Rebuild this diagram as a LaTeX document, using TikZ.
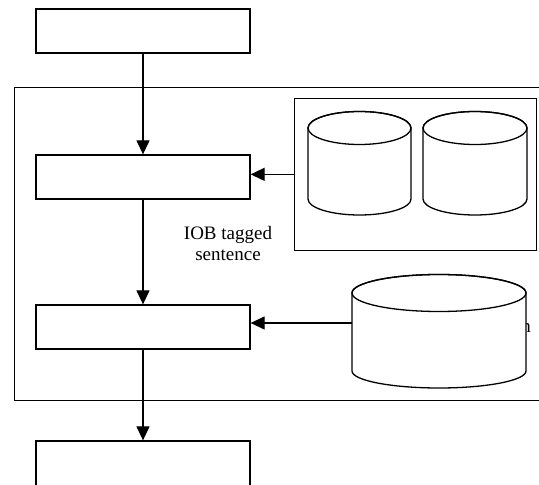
\documentclass[tikz,border=0pt]{standalone}
\usepackage{fontspec}
\setmainfont{Liberation Serif}
\usetikzlibrary{arrows.meta}
\tikzset{
  procbox/.style={draw, line width=1.3pt, fill=white, minimum width=214pt, minimum height=44pt, inner sep=0pt},
  flow/.style={line width=1.3pt, -{Triangle[length=14pt,width=13pt]}},
  frame/.style={draw, line width=1.3pt},
  cyl/.style={draw, line width=1.3pt, fill=white},
  lbl/.style={font=\fontsize{19}{21}\selectfont, align=center, inner sep=0pt}
}
\begin{document}
\begin{tikzpicture}[x=1pt,y=1pt]
\useasboundingbox (0,0) rectangle (539,485);
\clip (0,0) rectangle (539,485);
% outer frame
\node[frame, minimum width=531pt, minimum height=313pt, inner sep=0pt, anchor=south west] (outer) at (14,84) {};
% resource frame
\node[frame, minimum width=242pt, minimum height=152pt, inner sep=0pt, anchor=south west] (res) at (294,234) {};
% boxes
\node[procbox] (b1) at (143,454) {};
\node[procbox] (b2) at (143,308) {};
\node[procbox] (b3) at (143,158) {};
\node[procbox, minimum height=46pt] (b4) at (143,21) {};
% partially hidden text behind cylinder 3
\node[lbl, anchor=base east] (ntxt) at (531,152) {n};
% cylinder 1
\draw[cyl] (308,357) -- (308,286) arc[start angle=180,end angle=360,x radius=51.5,y radius=16] -- (411,357) arc[start angle=0,end angle=180,x radius=51.5,y radius=16.5] -- cycle;
\draw[line width=1.3pt] (359.5,357) ellipse[x radius=51.5,y radius=16.5];
% cylinder 2
\draw[cyl] (423,357) -- (423,286) arc[start angle=180,end angle=360,x radius=52,y radius=16] -- (527,357) arc[start angle=0,end angle=180,x radius=52,y radius=16.5] -- cycle;
\draw[line width=1.3pt] (475,357) ellipse[x radius=52,y radius=16.5];
% cylinder 3
\draw[cyl] (352,192) -- (352,114) arc[start angle=180,end angle=360,x radius=87,y radius=17] -- (526,192) arc[start angle=0,end angle=180,x radius=87,y radius=18.5] -- cycle;
\draw[line width=1.3pt] (439,192) ellipse[x radius=87,y radius=18.5];
\coordinate (c3w) at (352,162);
% connectors
\draw[flow] (b1.south) -- (b2.north);
\draw[flow] (b2.south) -- (b3.north);
\draw[flow] (b3.south) -- (b4.north);
\draw[flow] (res.west) -- (res.west -| b2.east);
\draw[flow] (c3w) -- (c3w -| b3.east);
% label
\node[lbl] (iob) at (228,241) {IOB tagged\\sentence};
\end{tikzpicture}
\end{document}
